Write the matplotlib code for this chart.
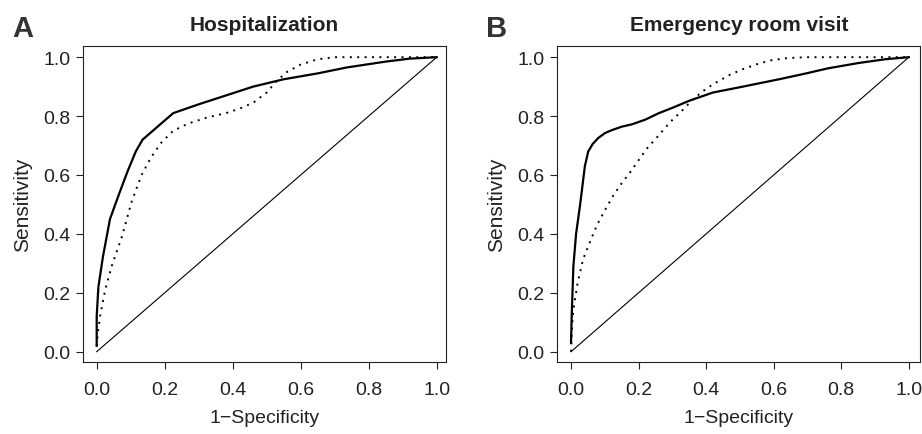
import numpy as np
import matplotlib
matplotlib.use("Agg")
import matplotlib.pyplot as plt

plt.rcParams['font.family'] = ['Liberation Sans', 'DejaVu Sans']

# panel A: hospitalization
hosp_solid_x = [0, 0, 0.005, 0.018, 0.039, 0.064, 0.09, 0.115, 0.135, 0.18, 0.225,
                0.30, 0.38, 0.46, 0.55, 0.65, 0.735, 0.85, 0.92, 1.0]
hosp_solid_y = [0.02, 0.12, 0.22, 0.32, 0.45, 0.53, 0.61, 0.68, 0.72, 0.765, 0.81,
                0.84, 0.87, 0.90, 0.925, 0.945, 0.965, 0.985, 0.995, 1.0]
hosp_dot_x = [0, 0.003, 0.01, 0.025, 0.044, 0.074, 0.103, 0.132, 0.16, 0.19, 0.225,
              0.27, 0.324, 0.38, 0.42, 0.46, 0.50, 0.53, 0.56, 0.60, 0.65, 0.70, 0.80, 1.0]
hosp_dot_y = [0.02, 0.06, 0.12, 0.21, 0.29, 0.39, 0.51, 0.60, 0.66, 0.71, 0.75,
              0.775, 0.795, 0.81, 0.825, 0.845, 0.88, 0.92, 0.95, 0.975, 0.993, 1.0, 1.0, 1.0]

# panel B: emergency room visit
er_solid_x = [0, 0.002, 0.007, 0.015, 0.027, 0.041, 0.051, 0.064, 0.08, 0.1, 0.12,
              0.15, 0.18, 0.22, 0.26, 0.30, 0.35, 0.42, 0.50, 0.56, 0.62, 0.70, 0.76,
              0.85, 0.93, 1.0]
er_solid_y = [0.03, 0.12, 0.29, 0.40, 0.50, 0.63, 0.68, 0.705, 0.725, 0.742, 0.752,
              0.764, 0.772, 0.788, 0.81, 0.828, 0.852, 0.88, 0.898, 0.912, 0.926, 0.946,
              0.962, 0.98, 0.993, 1.0]
er_dot_x = [0, 0.002, 0.005, 0.012, 0.02, 0.036, 0.05, 0.076, 0.1, 0.125, 0.15, 0.175,
            0.2, 0.224, 0.26, 0.293, 0.33, 0.362, 0.40, 0.431, 0.47, 0.51, 0.55, 0.59,
            0.64, 0.70, 0.80, 1.0]
er_dot_y = [0.0, 0.06, 0.12, 0.18, 0.236, 0.315, 0.355, 0.428, 0.48, 0.53, 0.572, 0.609,
            0.65, 0.689, 0.735, 0.779, 0.82, 0.858, 0.893, 0.915, 0.94, 0.96, 0.976, 0.989,
            0.997, 1.0, 1.0, 1.0]

ticks = [0.0, 0.2, 0.4, 0.6, 0.8, 1.0]
tick_labels = ["0.0", "0.2", "0.4", "0.6", "0.8", "1.0"]

W, H = 922, 435
fig = plt.figure(figsize=(W / 100, H / 100), dpi=100)

panels = [
    # letter, title, box pixels (left, right, top, bottom), xlim, data
    ("A", "Hospitalization", (83.3, 446.0, 46.7, 363.3), (-0.0394, 1.0274),
     hosp_solid_x, hosp_solid_y, hosp_dot_x, hosp_dot_y),
    ("B", "Emergency room visit", (557.3, 920.3, 46.7, 363.3), (-0.0406, 1.034),
     er_solid_x, er_solid_y, er_dot_x, er_dot_y),
]

for letter, title, (l, r, t, b), xlim, sx, sy, dx, dy in panels:
    ax = fig.add_axes([l / W, 1 - b / H, (r - l) / W, (b - t) / H])
    ax.plot([0, 1], [0, 1], color="black", lw=0.8)
    ax.plot(dx, dy, color="black", lw=1.4, linestyle=(0, (1, 2.8)))
    ax.plot(sx, sy, color="black", lw=1.6)
    ax.set_xlim(*xlim)
    ax.set_ylim(-0.036, 1.039)
    ax.set_xticks(ticks)
    ax.set_xticklabels(tick_labels)
    ax.set_yticks(ticks)
    ax.set_yticklabels(tick_labels)
    ax.tick_params(direction="out", length=5.3, width=0.8, labelsize=14,
                   colors="#222222")
    ax.tick_params(axis="x", pad=8)
    ax.tick_params(axis="y", pad=4)
    for sp in ax.spines.values():
        sp.set_linewidth(0.8)
        sp.set_color("#222222")
    ax.set_xlabel("1\u2212Specificity", fontsize=14, labelpad=8, color="#222222")
    ax.set_ylabel("Sensitivity", fontsize=15, labelpad=8, color="#222222")
    ax.set_title(title, fontsize=15, fontweight="bold", pad=11, color="#222222")
    fig.text((l - 71) / W, 1 - 29 / H, letter, fontsize=21, fontweight="bold",
             color="#333333", va="center", ha="left")

fig.savefig("out.png", dpi=100)
